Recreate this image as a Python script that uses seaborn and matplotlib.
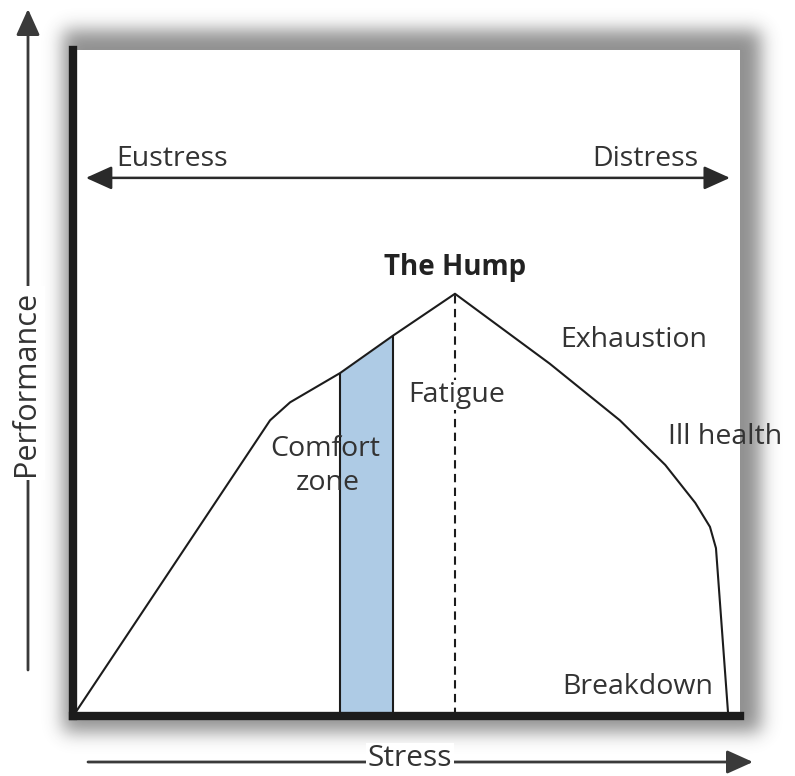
import numpy as np
import matplotlib
matplotlib.use("Agg")
import matplotlib.pyplot as plt
import seaborn as sns

# Stress-performance curve (stress on x, performance on y, both 0-100)
stress = [0.5, 29.6, 32.6, 40.1, 48.0, 57.3, 71.5, 82.0, 88.8, 93.3, 95.5, 96.4, 98.2]
performance = [0.6, 44.4, 47.1, 51.5, 57.1, 63.4, 52.9, 44.4, 37.7, 32.0, 28.4, 25.2, 0.6]
comfort_zone = [40.1, 48.0]
hump_stress = 57.3
hump_performance = 63.4

sns.set_style("white")
plt.rcParams["font.family"] = ["Open Sans", "DejaVu Sans"]

W, H = 795, 776
TXT = "#333333"
INK = "#1c1c1c"
BLUE = "#aecbe5"

fig = plt.figure(figsize=(W / 100, H / 100), dpi=100)

# Full-figure canvas in pixel units: soft drop shadow and outer axis arrows
bg = fig.add_axes([0, 0, 1, 1], zorder=0)
bg.set_xlim(0, W)
bg.set_ylim(H, 0)
bg.axis("off")

yy, xx = np.mgrid[0:H, 0:W]
mask = ((xx >= 63) & (xx <= 760) & (yy >= 30) & (yy <= 731)).astype(float)
sig = 9.0
t = np.arange(-36, 37)
k = np.exp(-0.5 * (t / sig) ** 2)
k /= k.sum()
blur = np.apply_along_axis(lambda r: np.convolve(r, k, mode="same"), 1, mask)
blur = np.apply_along_axis(lambda c: np.convolve(c, k, mode="same"), 0, blur)
rgba = np.zeros((H, W, 4))
rgba[..., :3] = 0.25
rgba[..., 3] = blur * 0.58
bg.imshow(rgba, extent=(0, W, H, 0), interpolation="bilinear", aspect="auto")

arrow_kw = dict(arrowstyle="-|>,head_length=1.0,head_width=0.45", mutation_scale=16,
                color="#3a3a3a", lw=2, shrinkA=0, shrinkB=0)
bg.annotate("", xy=(28, 9), xytext=(28, 670), arrowprops=arrow_kw)
bg.text(26, 383, "Performance", rotation=90, ha="center", va="center", fontsize=22,
        color=TXT, bbox=dict(fc="white", ec="none", pad=3))
bg.annotate("", xy=(753, 762), xytext=(88, 762), arrowprops=arrow_kw)
bg.text(410, 759, "Stress", ha="center", va="center", fontsize=21.5,
        color=TXT, bbox=dict(fc="white", ec="none", pad=1))

# Main panel
ax = fig.add_axes([72.5 / W, 60 / H, (740 - 72.5) / W, (716 - 50) / H], zorder=1)
ax.set_xlim(0, 100)
ax.set_ylim(0, 100)
ax.set_facecolor("white")
for side in ("top", "right"):
    ax.spines[side].set_visible(False)
for side in ("left", "bottom"):
    ax.spines[side].set_linewidth(6)
    ax.spines[side].set_color(INK)
    ax.spines[side].set_capstyle("projecting")
ax.set_xticks([])
ax.set_yticks([])

# Comfort zone band under the curve
xs = np.linspace(comfort_zone[0], comfort_zone[1], 60)
ax.fill_between(xs, 0, np.interp(xs, stress, performance), color=BLUE, lw=0, zorder=1)
ax.vlines(comfort_zone, 0, np.interp(comfort_zone, stress, performance),
          color=INK, lw=1.5, zorder=2)

# Dashed marker under the hump
ax.vlines(hump_stress, 0, hump_performance, color=INK, lw=1.5,
          linestyles=(0, (4, 2.6)), zorder=2)

sns.lineplot(x=stress, y=performance, sort=False, estimator=None, ax=ax,
             color=INK, lw=1.5, zorder=3)

# Eustress / Distress double arrow
ax.annotate("", xy=(2.0, 80.8), xytext=(98.5, 80.8),
            arrowprops=dict(arrowstyle="<|-|>,head_length=1.0,head_width=0.45",
                            mutation_scale=16, color="#2a2a2a", lw=1.8,
                            shrinkA=0, shrinkB=0))
fs = 20.5
ax.text(6.6, 83.6, "Eustress", ha="left", va="center", fontsize=fs, color=TXT)
ax.text(93.8, 83.6, "Distress", ha="right", va="center", fontsize=fs, color=TXT)
ax.text(hump_stress, 67.3, "The Hump", ha="center", va="center", fontsize=fs - 0.5,
        color="#222222", fontweight="bold")
ax.text(73.0, 56.5, "Exhaustion", ha="left", va="center", fontsize=fs, color=TXT)
ax.text(50.3, 48.2, "Fatigue", ha="left", va="center", fontsize=fs, color=TXT,
        zorder=4, bbox=dict(fc="white", ec="none", pad=1))
ax.text(37.8, 40.1, "Comfort", ha="center", va="center", fontsize=fs, color=TXT, zorder=4)
ax.text(38.2, 35.0, "zone", ha="center", va="center", fontsize=fs, color=TXT, zorder=4)
ax.text(89.2, 41.9, "Ill health", ha="left", va="center", fontsize=fs, color=TXT,
        clip_on=False)
ax.text(73.3, 4.3, "Breakdown", ha="left", va="center", fontsize=fs, color=TXT)

fig.savefig("out.png", dpi=100)
